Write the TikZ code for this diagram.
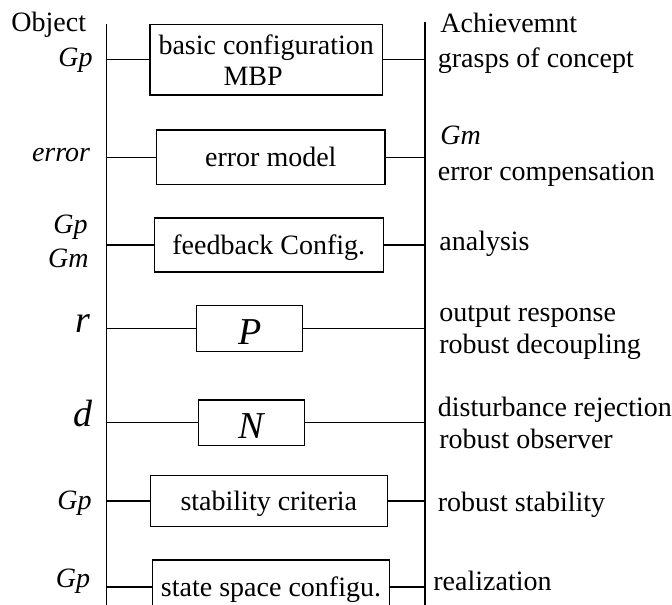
\documentclass[tikz,border=0pt]{standalone}
\usepackage{fontspec}
\setmainfont{Liberation Serif}
\usetikzlibrary{positioning}
\tikzstyle{line} = [draw, line width=0.6pt]
\tikzstyle{block} = [rectangle, draw, line width=0.6pt, inner sep=0pt, text depth=0pt, font=\fontsize{14}{15.5}\selectfont]
\tikzstyle{symblock} = [block, text height=15.5pt, font=\fontsize{19}{22}\selectfont\itshape]
\tikzstyle{txt} = [inner sep=0pt, font=\fontsize{14}{15.5}\selectfont]
\tikzstyle{inlab} = [txt, anchor=base east, font=\fontsize{14}{15.5}\selectfont\itshape]
\tikzstyle{outlab} = [txt, anchor=base west]
\tikzstyle{sym} = [inner sep=0pt, anchor=base east, font=\fontsize{19}{22}\selectfont\itshape]

\begin{document}
\begin{tikzpicture}[x=0.5pt, y=-0.5pt]
			\path [use as bounding box] (0,0) rectangle (672,604);
			\clip (0,0) rectangle (672,604);
			% Rails
			\coordinate (ltop) at (106.7,24);
			\coordinate (lbot) at (106.7,620);
			\coordinate (rtop) at (425,21.7);
			\coordinate (rbot) at (425,620);
			\path [line] (ltop) -- (lbot);
			\path [line] (rtop) -- (rbot);
			
			% Place nodes
			\node [block, minimum width=116.2pt, minimum height=35.3pt, align=left] (basic) at (266.2,59.7) {basic configuration\\\hspace*{32.5pt}MBP};
			\node [block, minimum width=114.2pt, minimum height=27.2pt] (errmod) at (270.8,157.2) {error model};
			\node [block, minimum width=114.5pt, minimum height=27pt] (feedback) at (268.8,245) {feedback Config.};
			\node [symblock, minimum width=53pt, minimum height=22.8pt] (pre) at (249.7,328.5) {P};
			\node [symblock, minimum width=53pt, minimum height=22.7pt] (obs) at (251.3,422.7) {N};
			\node [block, minimum width=118.5pt, minimum height=25.3pt] (stab) at (268.8,501) {stability criteria};
			\node [block, minimum width=118.3pt, minimum height=27pt] (statesp) at (271,587) {state space configu.};
			
			% Objects
			\node [txt, anchor=base west] (object) at (11,32) {Object};
			\node [inlab] (gpa) at (93,67) {Gp};
			\node [inlab] (error) at (90.5,162) {error};
			\node [inlab] (gpb) at (88,233) {Gp};
			\node [inlab] (gmb) at (89,267) {Gm};
			\node [sym] (ref) at (91,332) {r};
			\node [sym] (dist) at (93,426) {d};
			\node [inlab] (gpc) at (92,509) {Gp};
			\node [inlab] (gpd) at (90.5,587) {Gp};
			
			% Achievements
			\node [outlab] (achieve) at (440,33) {Achievemnt};
			\node [outlab] (grasp) at (437.5,68) {grasps of concept};
			\node [outlab, font=\fontsize{14}{15.5}\selectfont\itshape] (gma) at (440,144) {Gm};
			\node [outlab] (errcomp) at (437.5,180) {error compensation};
			\node [outlab] (analysis) at (439,250) {analysis};
			\node [outlab] (outresp) at (439,321.7) {output response};
			\node [outlab] (robdec) at (439,353) {robust decoupling};
			\node [outlab] (disrej) at (437.5,416) {disturbance rejection};
			\node [outlab] (robobs) at (439,448) {robust observer};
			\node [outlab] (robstab) at (437.5,511.7) {robust stability};
			\node [outlab] (real) at (433,590.7) {realization};
			
			% Draw edges
			\foreach \b in {basic, errmod, feedback, pre, obs, stab, statesp} {
				\path [line] (\b.west -| ltop) -- (\b.west);
				\path [line] (\b.east) -- (\b.east -| rtop);
			}
		\end{tikzpicture}
\end{document}
